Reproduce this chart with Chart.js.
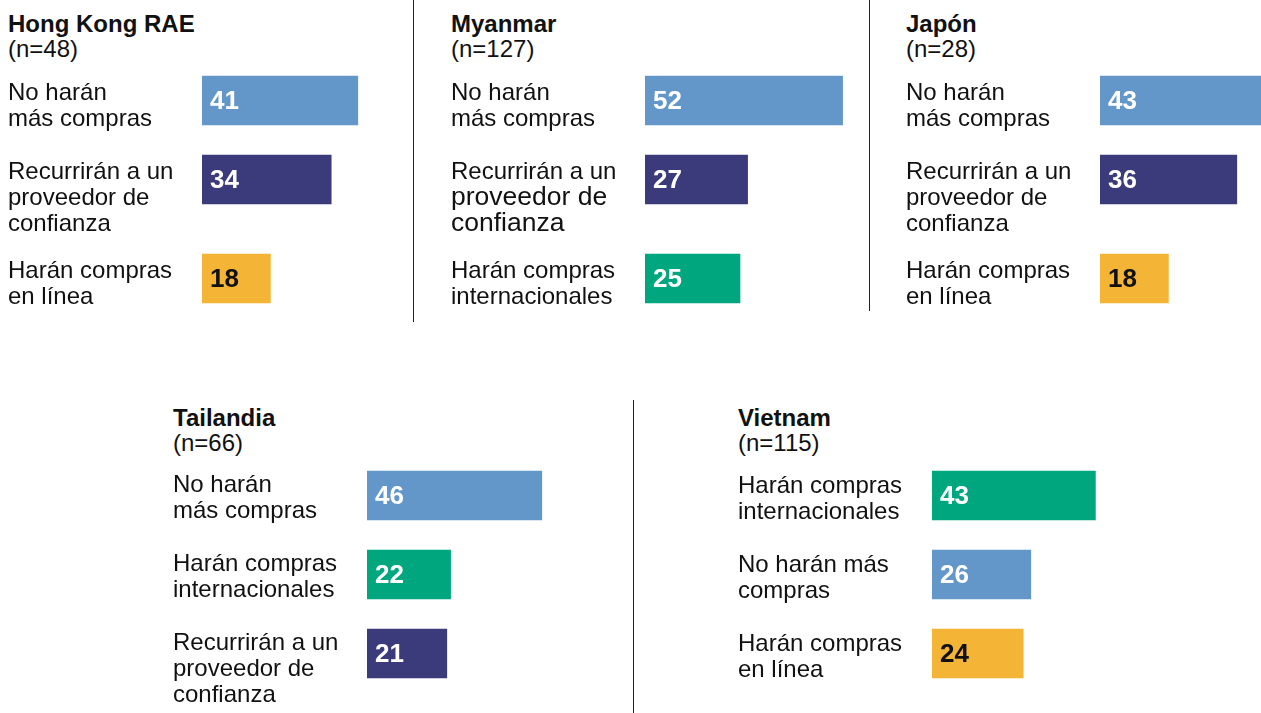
<!DOCTYPE html>
<html>
<head>
<meta charset="utf-8">
<script src="https://cdn.jsdelivr.net/npm/chart.js@4.4.1/dist/chart.umd.min.js"></script>
<style>
  body { margin: 0; width: 1261px; height: 713px; overflow: hidden; background: #fff;
         font-family: "Liberation Sans", Arial, sans-serif; color: #111; position: relative; }
  .panel-title { position: absolute; font-size: 24px; line-height: 25px; white-space: nowrap; }
  .panel-title b { display: block; }
  canvas { position: absolute; }
  .divider { position: absolute; width: 1px; background: #222; }
</style>
</head>
<body>
<div class="divider" style="left:413px;top:0;height:322px"></div>
<div class="divider" style="left:869px;top:0;height:311px"></div>
<div class="divider" style="left:633px;top:400px;height:313px"></div>

<script>
// '|' marks the line breaks of each category label
const hkCategories = ['No harán|más compras', 'Recurrirán a un|proveedor de|confianza', 'Harán compras|en línea'];
const hkValues = [41, 34, 18];

const myanmarCategories = ['No harán|más compras', 'Recurrirán a un|proveedor de|confianza', 'Harán compras|internacionales'];
const myanmarValues = [52, 27, 25];

const japonCategories = ['No harán|más compras', 'Recurrirán a un|proveedor de|confianza', 'Harán compras|en línea'];
const japonValues = [43, 36, 18];

const tailandiaCategories = ['No harán|más compras', 'Harán compras|internacionales', 'Recurrirán a un|proveedor de|confianza'];
const tailandiaValues = [46, 22, 21];

const vietnamCategories = ['Harán compras|internacionales', 'No harán más|compras', 'Harán compras|en línea'];
const vietnamValues = [43, 26, 24];

const colors = {
  'No harán más compras': '#6497c9',
  'Recurrirán a un proveedor de confianza': '#3b3a7a',
  'Harán compras internacionales': '#00a67e',
  'Harán compras en línea': '#f4b436'
};
const colorFor = c => colors[c.split('|').join(' ')];

const STEP = 79;      // px per row with a two-line label
const GUTTER = 194;   // label column
const PX_PER_UNIT = 3.8;
const W = 400;

// row centres, a three-line label pushes the next row down
function rowPositions(cats) {
  let y = 0.5;
  return cats.map(c => {
    const p = y;
    y += (39 + 20 * c.split('|').length) / STEP;
    return p;
  });
}

const rowText = {
  id: 'rowText',
  afterDatasetsDraw(chart, args, opts) {
    const ctx = chart.ctx;
    const meta = chart.getDatasetMeta(0);
    const x0 = chart.scales.x.getPixelForValue(0);
    ctx.save();
    meta.data.forEach((bar, i) => {
      const top = bar.y - bar.height / 2;
      const lines = opts.cats[i].split('|');
      ctx.fillStyle = '#111';
      ctx.textBaseline = 'alphabetic';
      ctx.textAlign = 'left';
      lines.forEach((ln, j) => {
        const big = opts.enlargeRow === i && j > 0;
        ctx.font = (big ? '26.5px' : '24px') + ' "Liberation Sans", Arial, sans-serif';
        ctx.fillText(ln, 0, top + opts.firstLine + 26 * j);
      });
      const val = chart.data.datasets[0].data[i].x;
      ctx.font = 'bold 26px "Liberation Sans", Arial, sans-serif';
      ctx.textBaseline = 'middle';
      ctx.fillStyle = colorFor(opts.cats[i]) === colors['Harán compras en línea'] ? '#111' : '#fff';
      ctx.fillText(String(val), x0 + 8, bar.y + 1.5);
    });
    ctx.restore();
  }
};

function panel(title, n, cats, values, left, titleTop, canvasTop, height, firstLine, enlargeRow) {
  const t = document.createElement('div');
  t.className = 'panel-title';
  t.style.left = left + 'px';
  t.style.top = titleTop + 'px';
  t.innerHTML = '<b>' + title + '</b>(n=' + n + ')';
  document.body.appendChild(t);

  const cv = document.createElement('canvas');
  cv.width = W;
  cv.height = height;
  cv.style.left = left + 'px';
  cv.style.top = canvasTop + 'px';
  document.body.appendChild(cv);

  const pos = rowPositions(cats);
  new Chart(cv, {
    type: 'bar',
    data: {
      datasets: [{
        data: values.map((v, i) => ({ x: v, y: pos[i] })),
        backgroundColor: cats.map(colorFor),
        borderWidth: 0,
        barThickness: 49
      }]
    },
    options: {
      indexAxis: 'y',
      responsive: false,
      animation: false,
      layout: { padding: { left: GUTTER, top: 0, right: 0, bottom: 0 } },
      scales: {
        x: { type: 'linear', min: 0, max: (W - GUTTER) / PX_PER_UNIT, display: false },
        y: { type: 'linear', reverse: true, offset: false, min: 0, max: height / STEP, display: false }
      },
      plugins: {
        legend: { display: false },
        tooltip: { enabled: false },
        rowText: { cats: cats, enlargeRow: enlargeRow, firstLine: firstLine }
      }
    },
    plugins: [rowText]
  });
}

panel('Hong Kong RAE', 48, hkCategories, hkValues, 8, 11, 61, 262, 24, -1);
panel('Myanmar', 127, myanmarCategories, myanmarValues, 451, 11, 61, 262, 24, 1);
panel('Japón', 28, japonCategories, japonValues, 906, 11, 61, 262, 24, -1);
panel('Tailandia', 66, tailandiaCategories, tailandiaValues, 173, 405, 456, 257, 21, -1);
panel('Vietnam', 115, vietnamCategories, vietnamValues, 738, 405, 456, 257, 22, -1);
</script>
</body>
</html>
